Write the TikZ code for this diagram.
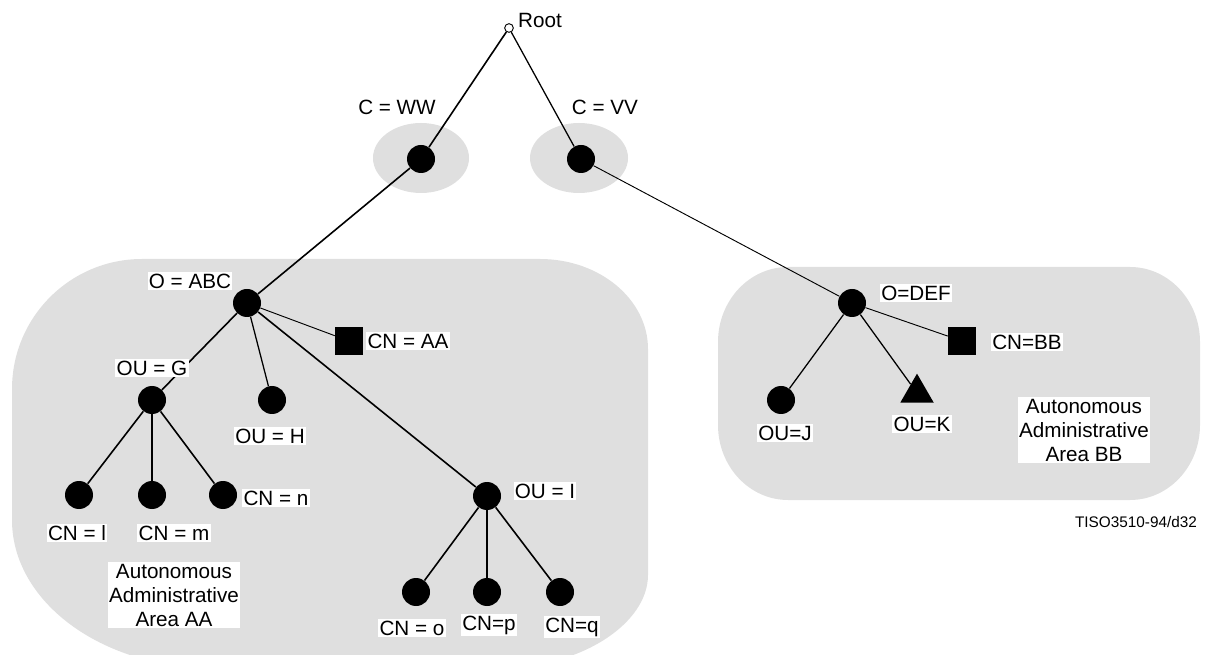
\documentclass[tikz,border=0pt]{standalone}
\usepackage{fontspec}
\setmainfont{Liberation Sans}
\usetikzlibrary{shapes.geometric}
\definecolor{areagray}{RGB}{223,223,223}
\begin{document}
\begin{tikzpicture}[x=0.75pt,y=-0.75pt,
  font=\fontsize{15.5}{18}\selectfont,
  dot/.style={circle,fill=black,draw=none,minimum size=21pt,inner sep=0pt},
  sq/.style={rectangle,fill=black,draw=none,minimum size=21pt,inner sep=0pt},
  tri/.style={regular polygon,regular polygon sides=3,fill=black,draw=none,minimum size=29pt,inner sep=0pt},
  lbl/.style={fill=white,inner sep=1pt,align=center},
  thk/.style={line width=1.2pt},
  med/.style={line width=0.95pt},
  thn/.style={line width=0.7pt}]
\useasboundingbox (0,0) rectangle (1206,655);
% gray areas
\fill[areagray] (12,389) .. controls (12,317.2) and (70.2,259) .. (142,259)
  -- (540,259) .. controls (599.6,259) and (648,299.3) .. (648,349)
  -- (648,575) .. controls (648,624) and (580,668) .. (500,668)
  -- (212,668) .. controls (101.5,668) and (12,601.7) .. (12,520) -- cycle;
\fill[areagray] (718,342) .. controls (718,300.6) and (749.3,267) .. (788,267)
  -- (1130,267) .. controls (1168.7,267) and (1200,300.6) .. (1200,342)
  -- (1200,425) .. controls (1200,466.4) and (1168.7,500) .. (1130,500)
  -- (788,500) .. controls (749.3,500) and (718,466.4) .. (718,425) -- cycle;
\fill[areagray] (421,158) ellipse [x radius=48, y radius=35];
\fill[areagray] (579,158) ellipse [x radius=49, y radius=35];
% nodes
\node[circle,draw=black,fill=white,line width=0.7pt,minimum size=6.5pt,inner sep=0pt] (root) at (509,28) {};
\node[dot] (ww) at (421,159) {};
\node[dot] (vv) at (581,159) {};
\node[dot] (abc) at (247,303) {};
\node[sq] (cnaa) at (349,341) {};
\node[dot] (oug) at (152,400) {};
\node[dot] (ouh) at (272,400) {};
\node[dot] (cnl) at (79,495) {};
\node[dot] (cnm) at (152,495) {};
\node[dot] (cnn) at (223,495) {};
\node[dot] (oui) at (487,496) {};
\node[dot] (cno) at (416,592) {};
\node[dot] (cnp) at (487,592) {};
\node[dot] (cnq) at (560,592) {};
\node[dot] (def) at (852,303) {};
\node[sq] (cnbb) at (962,341) {};
\node[dot] (ouj) at (781,400) {};
\node[tri] (ouk) at (917,393) {};
% connectors
\draw[thk] (root) -- (ww);
\draw[med] (root) -- (vv);
\draw[thk] (ww) -- (abc);
\draw[thn] (vv) -- (def);
\draw[thk] (abc) -- (oug);
\draw[med] (abc) -- (ouh);
\draw[thn] (abc) -- (cnaa);
\draw[thk] (abc) -- (oui);
\draw[thk] (oug) -- (cnl);
\draw[line width=1.5pt] (oug) -- (cnm);
\draw[thk] (oug) -- (cnn);
\draw[thk] (oui) -- (cno);
\draw[thk] (oui) -- (cnp);
\draw[thk] (oui) -- (cnq);
\draw[thn] (def) -- (cnbb);
\draw[med] (def) -- (ouj);
\draw[med] (def) -- (ouk);
% labels
\node[inner sep=0pt] (lroot) at (540,20) {Root};
\node[inner sep=0pt] (lww) at (397,107) {C = WW};
\node[inner sep=0pt] (lvv) at (605,107) {C = VV};
\node[lbl] (labc) at (190,281) {O = ABC};
\node[lbl] (lcnaa) at (408,341) {CN = AA};
\node[lbl] (loug) at (152,368) {OU = G};
\node[lbl] (louh) at (270,436) {OU = H};
\node[lbl] (lcnl) at (77,533) {CN = l};
\node[lbl] (lcnm) at (174,533) {CN = m};
\node[lbl] (lcnn) at (276,498) {CN = n};
\node[lbl] (laaa) at (174,595) {Autonomous\\Administrative\\Area AA};
\node[lbl] (loui) at (545,491) {OU = I};
\node[lbl] (lcno) at (412,628) {CN = o};
\node[lbl] (lcnp) at (489,625) {CN=p};
\node[lbl] (lcnq) at (572,627) {CN=q};
\node[lbl] (ldef) at (916,293) {O=DEF};
\node[lbl] (lcnbb) at (1027,342) {CN=BB};
\node[lbl] (louj) at (785,433) {OU=J};
\node[lbl] (louk) at (922,424) {OU=K};
\node[lbl] (lbbb) at (1084,430) {Autonomous\\Administrative\\Area BB};
\node[inner sep=0pt,font=\fontsize{11.5}{14}\selectfont] (tiso) at (1136,522) {TISO3510-94/d32};
\end{tikzpicture}
\end{document}
